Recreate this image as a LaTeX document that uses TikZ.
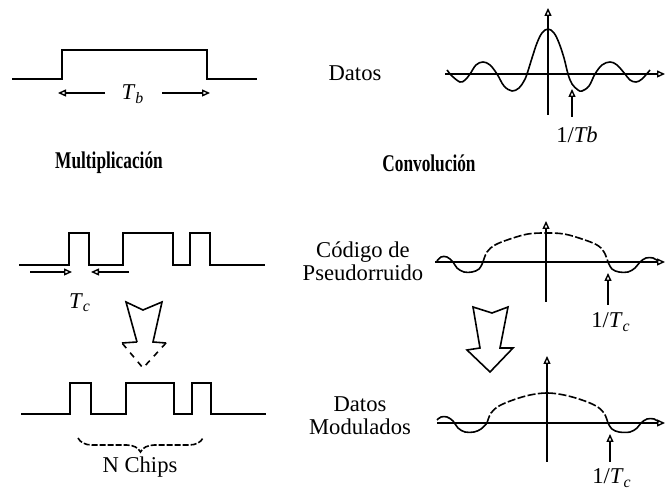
\documentclass[tikz,border=0pt]{standalone}
\usepackage{fontspec}
\usepackage{graphicx}
\setmainfont{Liberation Serif}
\usetikzlibrary{arrows.meta,decorations.pathreplacing}
\begin{document}
\begin{tikzpicture}[x=0.5pt,y=-0.5pt,
  wave/.style={line width=0.8pt, line join=miter},
  axisline/.style={line width=0.7pt},
  tip/.style={-{Triangle[open,length=4pt,width=3.5pt]}},
  lobe/.style={line width=0.8pt, dash pattern=on 4pt off 1.2pt},
  lbl/.style={inner sep=0pt, font=\fontsize{11.3}{11.5}\selectfont, align=center},
  head/.style={inner sep=0pt, font=\fontsize{12}{14}\selectfont\bfseries},
  hollow/.style={line width=0.8pt, line join=miter},
]
\useasboundingbox (0,0) rectangle (668,490);

% ---------- top left: data bit ----------
\draw[wave] (12,79) -- (62,79) -- (62,50) -- (207,50) -- (207,79) -- (257,79);
\node[lbl] (tb) at (133,94) {\textit{T}\textsubscript{\textit{b}}};
\coordinate (tbla) at (105,93); \coordinate (tblb) at (58,93);
\coordinate (tbra) at (162,93); \coordinate (tbrb) at (210,93);
\draw[axisline,tip] (tbla) -- (tblb);
\draw[axisline,tip] (tbra) -- (tbrb);

\node[head] (mult) at (109,163) {\scalebox{0.72}[1]{Multiplicación}};
\node[head] (conv) at (429,163) {\scalebox{0.72}[1]{Convolución}};

% ---------- top right: data spectrum ----------
\node[lbl] (datos) at (355,73) {Datos};
\coordinate (a1l) at (445,74); \coordinate (a1r) at (665,74);
\coordinate (a1b) at (548,115); \coordinate (a1t) at (548,8);
\draw[axisline,tip] (a1l) -- (a1r);
\draw[axisline,tip] (a1b) -- (a1t);
\draw[wave] plot[smooth, tension=0.6] coordinates {
 (447,70) (452,76) (460,82) (465,80) (470,74) (476,65) (483,62) (490,65)
 (497,74) (504,86) (512,91) (519,88) (524,81) (527,74) (532,58) (537,43)
 (542,33) (548,29) (554,33) (559,43) (564,58) (568,74) (572,84) (578,90)
 (582,91) (589,86) (595,74) (602,65) (610,62) (617,65) (625,74) (630,80)
 (636,82) (642,79) (650,70)};
\coordinate (f1b) at (572,117); \coordinate (f1t) at (572,89);
\draw[axisline,tip] (f1b) -- (f1t);
\node[lbl] (ftb) at (577,135) {1/\textit{Tb}};

% ---------- middle left: PN code ----------
\draw[wave] (19,265) -- (69,265) -- (69,233) -- (89,233) -- (89,265) -- (123,265)
  -- (123,233) -- (173,233) -- (173,265) -- (190,265) -- (190,233) -- (210,233)
  -- (210,265) -- (265,265);
\coordinate (tcla) at (30,272); \coordinate (tclb) at (72,272);
\coordinate (tcra) at (129,272); \coordinate (tcrb) at (91,272);
\draw[axisline,tip] (tcla) -- (tclb);
\draw[axisline,tip] (tcra) -- (tcrb);
\node[lbl] (tc) at (80,303) {\textit{T}\textsubscript{\textit{c}}};

% big hollow arrow left
\draw[hollow] (137,342) -- (126,302) -- (143,310) -- (162,302) -- (153,342) -- (166,343);
\draw[hollow, dashed] (166,343) -- (143,368) -- (122,343);
\draw[hollow] (122,343) -- (137,342);

% ---------- bottom left: modulated chips ----------
\draw[wave] (21,414) -- (70,414) -- (70,383) -- (91,383) -- (91,414) -- (126,414)
  -- (126,383) -- (174,383) -- (174,414) -- (192,414) -- (192,383) -- (211,383)
  -- (211,414) -- (266,414);
\coordinate (bra) at (78,438); \coordinate (brb) at (203,438);
\draw[line width=0.8pt, dash pattern=on 3pt off 1pt, decorate, decoration={brace, mirror, amplitude=7pt}] (bra) -- (brb);
\node[lbl] (nchips) at (140,467) {N Chips};

% ---------- middle right: PN spectrum ----------
\node[lbl] (pn) at (363,261) {Código de\\Pseudorruido};
\coordinate (a2l) at (435,262); \coordinate (a2r) at (665,262);
\coordinate (a2b) at (546,302); \coordinate (a2t) at (546,221);
\draw[axisline,tip] (a2l) -- (a2r);
\draw[axisline,tip] (a2b) -- (a2t);
\draw[wave] plot[smooth, tension=0.6] coordinates {
 (437,261) (441,257) (447,257) (453,262) (457,268) (464,272) (472,272) (479,269) (483,262)};
\draw[lobe] plot[smooth, tension=0.6] coordinates {
 (483,262) (487,252) (495,245) (510,239) (528,234) (546,233) (564,234) (582,239) (597,245) (604,252) (608,262)};
\draw[wave] plot[smooth, tension=0.6] coordinates {
 (608,262) (612,269) (619,272) (628,272) (635,268) (640,262) (646,258) (653,258) (658,261)};
\coordinate (f2b) at (608,305); \coordinate (f2t) at (608,273);
\draw[axisline,tip] (f2b) -- (f2t);
\node[lbl] (ftc1) at (611,322) {1/\textit{T}\textsubscript{\textit{c}}};

% big hollow arrow right
\draw[hollow] (480,348) -- (473,307) -- (492,313) -- (508,307) -- (500,348) -- (513,348)
  -- (490,372) -- (467,350) -- cycle;

% ---------- bottom right: modulated spectrum ----------
\node[lbl] (dm) at (360,416) {Datos\\Modulados};
\coordinate (a3l) at (437,423); \coordinate (a3r) at (665,423);
\coordinate (a3b) at (547,462); \coordinate (a3t) at (547,356);
\draw[axisline,tip] (a3l) -- (a3r);
\draw[axisline,tip] (a3b) -- (a3t);
\draw[wave] plot[smooth, tension=0.6] coordinates {
 (437,420) (441,417) (447,417) (453,421) (458,428) (465,432) (474,432) (481,429) (487,423)};
\draw[lobe] plot[smooth, tension=0.6] coordinates {
 (487,423) (491,413) (499,406) (513,400) (530,395) (547,393) (564,395) (582,400) (596,406) (604,413) (608,423)};
\draw[wave] plot[smooth, tension=0.6] coordinates {
 (608,423) (612,429) (619,432) (630,432) (637,428) (641,423) (647,419) (654,419) (659,422)};
\coordinate (f3b) at (610,462); \coordinate (f3t) at (610,434);
\draw[axisline,tip] (f3b) -- (f3t);
\node[lbl] (ftc2) at (612,478) {1/\textit{T}\textsubscript{\textit{c}}};
\end{tikzpicture}
\end{document}
